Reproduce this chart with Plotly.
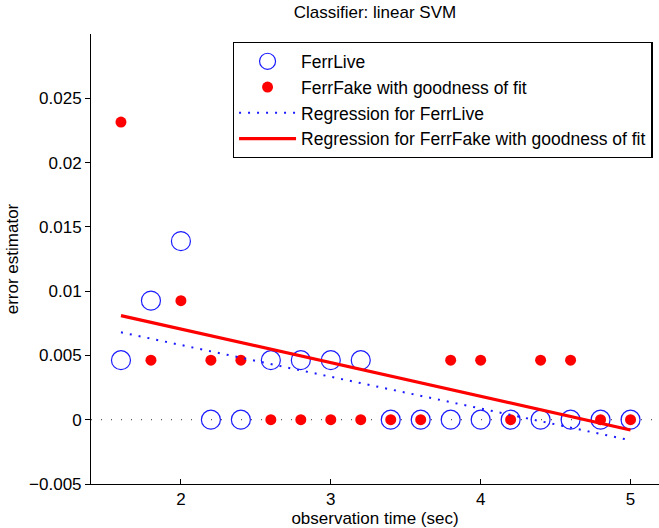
import plotly.graph_objects as go

# observation times (sec)
obs_time = [1.6, 1.8, 2.0, 2.2, 2.4, 2.6, 2.8, 3.0, 3.2, 3.4, 3.6, 3.8, 4.0, 4.2, 4.4, 4.6, 4.8, 5.0]

ferr_live = [0.00463, 0.00926, 0.01389, 0, 0, 0.00463, 0.00463, 0.00463, 0.00463,
             0, 0, 0, 0, 0, 0, 0, 0, 0]
ferr_fake = [0.02315, 0.00463, 0.00926, 0.00463, 0.00463, 0, 0, 0, 0,
             0, 0, 0.00463, 0.00463, 0, 0.00463, 0.00463, 0, 0]

# regression line endpoints
reg_x = [1.6, 5.0]
reg_live = [0.0068, -0.0016]
reg_fake = [0.0081, -0.0008]

x_ticks = [2, 3, 4, 5]
y_ticks = [-0.005, 0, 0.005, 0.01, 0.015, 0.02, 0.025]
y_tick_text = ["\u22120.005", "0", "0.005", "0.01", "0.015", "0.02", "0.025"]

FONT = "Liberation Sans, Arial, Helvetica, sans-serif"

fig = go.Figure()

fig.add_trace(go.Scatter(
    x=obs_time, y=ferr_live, mode="markers", name="FerrLive",
    marker=dict(symbol="circle-open", size=19, color="#1a1aff", line=dict(width=1.2, color="#1a1aff")),
))
fig.add_trace(go.Scatter(
    x=obs_time, y=ferr_fake, mode="markers", name="FerrFake with goodness of fit",
    marker=dict(symbol="circle", size=11, color="#ff0000", line=dict(width=0)),
))
fig.add_trace(go.Scatter(
    x=reg_x, y=reg_live, mode="lines", name="Regression for FerrLive",
    line=dict(color="#1a1aff", width=2, dash="2px,7px"),
))
fig.add_trace(go.Scatter(
    x=reg_x, y=reg_fake, mode="lines", name="Regression for FerrFake with goodness of fit",
    line=dict(color="#ff0000", width=3.2),
))

# dotted zero reference line
fig.add_shape(type="line", xref="x domain", yref="y", x0=0, x1=1, y0=0, y1=0,
              line=dict(color="#333333", width=1, dash="1px,9px"), layer="below")

fig.update_layout(
    width=659, height=528,
    margin=dict(l=91, r=0, t=34, b=44),
    paper_bgcolor="white", plot_bgcolor="white",
    font=dict(family=FONT, size=17, color="black"),
    title=dict(text="Classifier: linear SVM", x=0.569, xanchor="center", y=0.977, yanchor="middle",
               font=dict(size=17)),
    showlegend=True,
    legend=dict(x=0.989, xanchor="right", y=0.982, yanchor="top",
                bordercolor="black", borderwidth=1.3, bgcolor="white",
                font=dict(size=17.5), itemwidth=57, tracegroupgap=0),
    xaxis=dict(range=[1.4, 5.19], tickvals=x_ticks, ticks="inside", ticklen=5, tickwidth=1,
               tickcolor="black", showline=True, linecolor="black", linewidth=1,
               showgrid=False, zeroline=False, tickfont=dict(size=17),
               title=dict(text="observation time (sec)", standoff=3, font=dict(size=17))),
    yaxis=dict(range=[-0.005, 0.03], tickvals=y_ticks, ticktext=y_tick_text, ticks="outside",
               ticklen=5, tickwidth=1, tickcolor="black", showline=True, linecolor="black",
               linewidth=1, showgrid=False, zeroline=False, tickfont=dict(size=17),
               title=dict(text="error estimator", standoff=6, font=dict(size=17))),
)

fig.write_html("out.html")
